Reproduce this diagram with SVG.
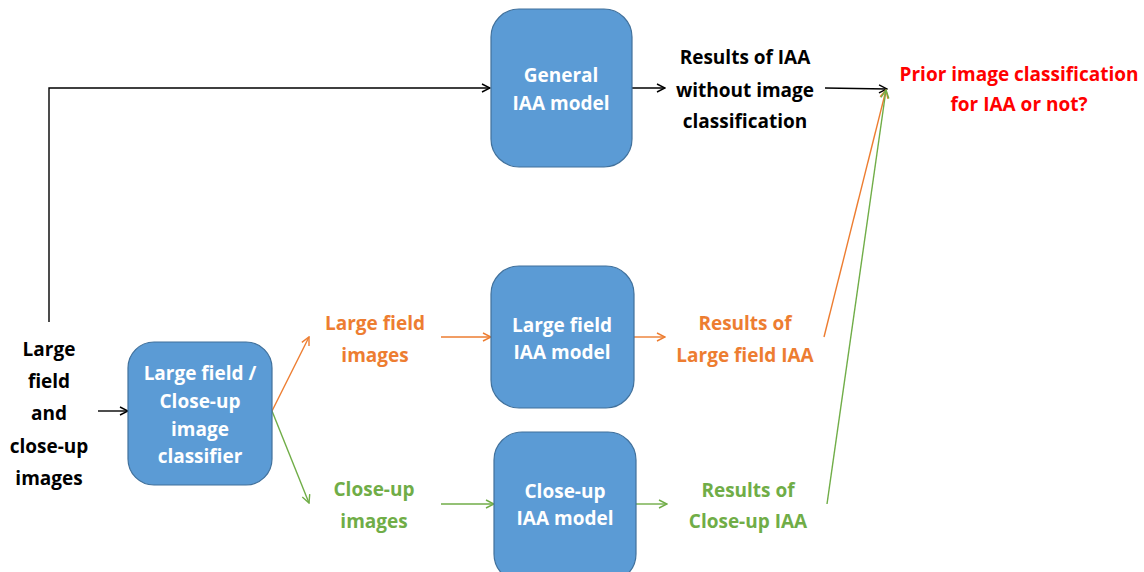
<svg xmlns="http://www.w3.org/2000/svg" width="1144" height="572" viewBox="0 0 1144 572">
  <defs>
    <style>
      .box { fill: #5B9BD5; stroke: #41719C; stroke-width: 1.2; }
      .t { font-family: "Open Sans", Lato, "Liberation Sans", sans-serif; font-weight: bold; font-size: 19px; text-anchor: middle; }
      .w { fill: #FFFFFF; }
      .k { fill: #000000; }
      .o { fill: #ED7D31; }
      .g { fill: #70AD47; }
      .r { fill: #FF0000; }
      .lk { stroke: #000000; stroke-width: 1.4; fill: none; }
      .lo { stroke: #ED7D31; stroke-width: 1.4; fill: none; }
      .lg { stroke: #70AD47; stroke-width: 1.4; fill: none; }
    </style>
    <marker id="ak" markerWidth="10" markerHeight="10" refX="9" refY="5" orient="auto" markerUnits="userSpaceOnUse">
      <polyline points="1,1 9,5 1,9" fill="none" stroke="#000000" stroke-width="1.4"/>
    </marker>
    <marker id="ao" markerWidth="10" markerHeight="10" refX="9" refY="5" orient="auto" markerUnits="userSpaceOnUse">
      <polyline points="1,1 9,5 1,9" fill="none" stroke="#ED7D31" stroke-width="1.4"/>
    </marker>
    <marker id="ag" markerWidth="10" markerHeight="10" refX="9" refY="5" orient="auto" markerUnits="userSpaceOnUse">
      <polyline points="1,1 9,5 1,9" fill="none" stroke="#70AD47" stroke-width="1.4"/>
    </marker>
  </defs>
  <rect width="1144" height="572" fill="#FFFFFF"/>

  <g id="connectors">
    <polyline class="lk" points="49,322 49,88 490,88" marker-end="url(#ak)"/>
    <line class="lk" x1="98" y1="411" x2="128" y2="411" marker-end="url(#ak)"/>
    <line class="lk" x1="632" y1="88" x2="665" y2="88" marker-end="url(#ak)"/>
    <line class="lk" x1="825" y1="88" x2="887" y2="89" marker-end="url(#ak)"/>
    <line class="lo" x1="272" y1="411" x2="309" y2="337" marker-end="url(#ao)"/>
    <line class="lg" x1="272" y1="411" x2="309" y2="503" marker-end="url(#ag)"/>
    <line class="lo" x1="441" y1="337" x2="491" y2="337" marker-end="url(#ao)"/>
    <line class="lg" x1="441" y1="504" x2="494" y2="504" marker-end="url(#ag)"/>
    <line class="lo" x1="634" y1="337" x2="665" y2="337" marker-end="url(#ao)"/>
    <line class="lg" x1="636" y1="504" x2="667" y2="504" marker-end="url(#ag)"/>
    <line class="lo" x1="824" y1="337" x2="886" y2="90" marker-end="url(#ao)"/>
    <line class="lg" x1="827" y1="504" x2="886" y2="90" marker-end="url(#ag)"/>
  </g>

  <g id="input">
    <text class="t k" x="49" y="356">Large</text>
    <text class="t k" x="49" y="388">field</text>
    <text class="t k" x="49" y="420">and</text>
    <text class="t k" x="49" y="453">close-up</text>
    <text class="t k" x="49" y="485">images</text>
  </g>

  <g id="classifier">
    <rect class="box" x="128" y="342" width="144" height="143" rx="26"/>
    <text class="t w" x="200" y="380">Large field /</text>
    <text class="t w" x="200" y="408">Close-up</text>
    <text class="t w" x="200" y="436">image</text>
    <text class="t w" x="200" y="463">classifier</text>
  </g>

  <g id="general-model">
    <rect class="box" x="491" y="9" width="141" height="158" rx="28"/>
    <text class="t w" x="561" y="82">General</text>
    <text class="t w" x="561" y="110">IAA model</text>
  </g>

  <g id="general-results">
    <text class="t k" x="745" y="64">Results of IAA</text>
    <text class="t k" x="745" y="97">without image</text>
    <text class="t k" x="745" y="128">classification</text>
  </g>

  <g id="question">
    <text class="t r" x="1019" y="81">Prior image classification</text>
    <text class="t r" x="1019" y="111">for IAA or not?</text>
  </g>

  <g id="large-images">
    <text class="t o" x="375" y="330">Large field</text>
    <text class="t o" x="375" y="362">images</text>
  </g>

  <g id="closeup-images">
    <text class="t g" x="374" y="496">Close-up</text>
    <text class="t g" x="374" y="528">images</text>
  </g>

  <g id="large-model">
    <rect class="box" x="491" y="266" width="143" height="142" rx="28"/>
    <text class="t w" x="562" y="332">Large field</text>
    <text class="t w" x="562" y="359">IAA model</text>
  </g>

  <g id="closeup-model">
    <rect class="box" x="494" y="432" width="142" height="150" rx="28"/>
    <text class="t w" x="565" y="498">Close-up</text>
    <text class="t w" x="565" y="525">IAA model</text>
  </g>

  <g id="large-results">
    <text class="t o" x="745" y="330">Results of</text>
    <text class="t o" x="745" y="362">Large field IAA</text>
  </g>

  <g id="closeup-results">
    <text class="t g" x="748" y="497">Results of</text>
    <text class="t g" x="748" y="528">Close-up IAA</text>
  </g>
</svg>
